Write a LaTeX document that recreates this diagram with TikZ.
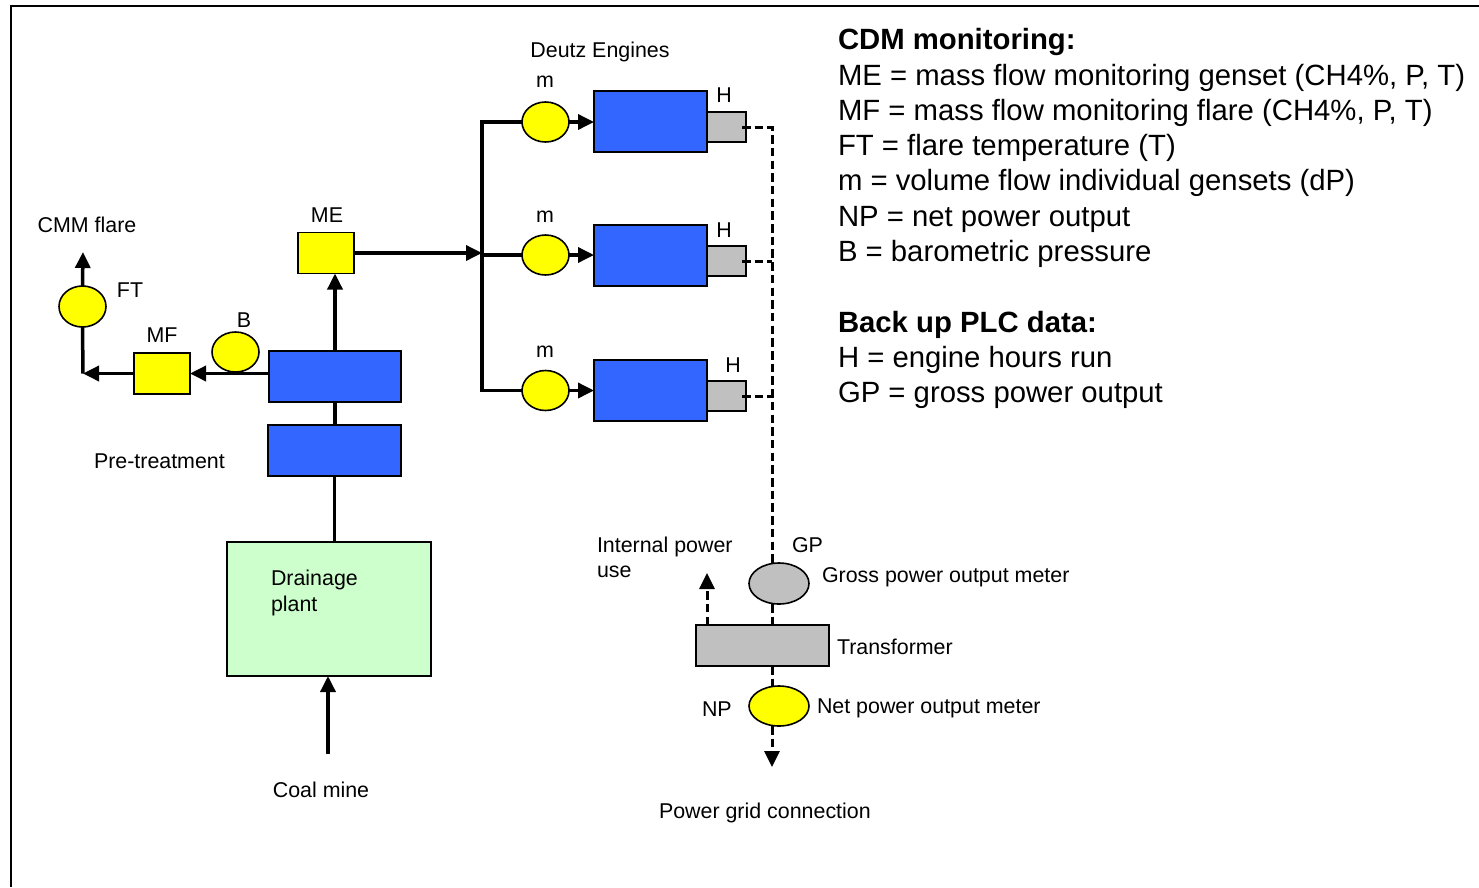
\documentclass[tikz,border=0pt]{standalone}
\usepackage{fontspec}
\setmainfont{Liberation Sans}
\usetikzlibrary{arrows.meta,shapes.geometric}
\definecolor{engblue}{HTML}{3366FF}
\definecolor{meteryellow}{HTML}{FFFF00}
\definecolor{boxgray}{HTML}{C0C0C0}
\definecolor{plantgreen}{HTML}{CCFFCC}
\begin{document}
\begin{tikzpicture}[x=1pt,y=-1pt,
  box/.style={draw,line width=1.6pt,inner sep=0,outer sep=0,rectangle},
  meter/.style={draw,line width=1.6pt,inner sep=0,outer sep=0,ellipse,fill=meteryellow},
  engine/.style={box,fill=engblue,minimum width=113pt,minimum height=61pt},
  hbox/.style={box,fill=boxgray,minimum width=39pt,minimum height=30pt},
  flow/.style={line width=3.5pt,line join=miter},
  arr/.style={-{Triangle[length=16pt,width=15pt]}},
  dashline/.style={line width=3pt,dash pattern=on 8.5pt off 4.2pt},
  lab/.style={font=\fontsize{21.4}{25}\selectfont,inner sep=0,outer sep=0},
  leg/.style={font=\fontsize{29.3}{35}\selectfont,inner sep=0,outer sep=0,anchor=base west},
  legb/.style={leg,font=\fontsize{29.3}{35}\selectfont\bfseries}]
\useasboundingbox (0,0) rectangle (1479,887);
\fill[white] (0,0) rectangle (1479,887);
% frame
\draw[line width=2.5pt] (11,887) -- (11,6) -- (1479,6);

% engines
\node[engine] (E1) at (650.5,121.5) {};
\node[engine] (E2) at (650.5,255.5) {};
\node[engine] (E3) at (650.5,390.5) {};
\node[hbox] (H1) at (726.5,127) {};
\node[hbox] (H2) at (726.5,261) {};
\node[hbox] (H3) at (726.5,396) {};
\node[meter,minimum width=47pt,minimum height=40pt] (m1) at (545.5,122) {};
\node[meter,minimum width=47pt,minimum height=40pt] (m2) at (545.5,255) {};
\node[meter,minimum width=47pt,minimum height=40pt] (m3) at (545.5,390.5) {};
\coordinate (bTop) at (482,122);
\coordinate (bBot) at (482,390.5);

% left part
\node[box,fill=meteryellow,minimum width=56pt,minimum height=41pt] (ME) at (326,253) {};
\node[box,fill=engblue,minimum width=132pt,minimum height=51pt] (P1) at (335,376.5) {};
\node[box,fill=engblue,minimum width=133pt,minimum height=51pt] (P2) at (334.5,450.5) {};
\node[box,fill=plantgreen,line width=2.5pt,minimum width=204pt,minimum height=134pt] (D) at (329,609) {};
\node[box,fill=meteryellow,minimum width=56pt,minimum height=41pt] (MF) at (162,373.5) {};
\node[meter,minimum width=47pt,minimum height=40pt] (B) at (235.5,352) {};
\node[meter,minimum width=47pt,minimum height=41pt] (FT) at (82.5,306.5) {};
\coordinate (cm) at (328,754);
\coordinate (corner) at (83,373.5);
\coordinate (flare) at (83,252);

% power side
\node[meter,fill=boxgray,minimum width=60pt,minimum height=41pt] (GP) at (779,583.5) {};
\node[box,fill=boxgray,minimum width=133pt,minimum height=41pt] (T) at (762.5,645.5) {};
\node[meter,minimum width=60pt,minimum height=40pt] (NP) at (779,706) {};
\coordinate (v1) at (772,127);
\coordinate (v2) at (772,261);
\coordinate (v3) at (772,396);
\coordinate (h1) at (742,127);
\coordinate (h2) at (742,261);
\coordinate (h3) at (742,396);
\coordinate (grid) at (772,767);
\coordinate (ip) at (707,573);

% flow connectors
\draw[flow] (m1.west) -- (bTop) -- (bBot) -- (m3.west);
\draw[flow] (m2.west) -- (m2.west -| bTop);
\draw[flow,arr] (ME.east) -- (ME.east -| bTop);
\draw[flow,arr] (m1.east) -- (m1.east -| E1.west);
\draw[flow,arr] (m2.east) -- (m2.east -| E2.west);
\draw[flow,arr] (m3.east) -- (m3.east -| E3.west);
\draw[flow,arr] (cm) -- (cm |- D.south);
\draw[flow] (P2.south) -- (P2.south |- D.north);
\draw[flow] (P1.south) -- (P1.south |- P2.north);
\draw[flow,arr] (P1.north) -- (P1.north |- ME.south);
\draw[flow,arr] (P1.west |- MF.east) -- (MF.east);
\draw[flow,arr] (MF.west) -- (corner);
\draw[flow] (corner) -- (FT.south);
\draw[flow,arr] (FT.north) -- (flare);

% dashed power lines
\draw[dashline] (h1) -- (v1) -- (v1 |- GP.north);
\draw[dashline] (h2) -- (v2);
\draw[dashline] (h3) -- (v3);
\draw[dashline] (v1 |- GP.south) -- (v1 |- T.north);
\draw[dashline] (v1 |- T.south) -- (v1 |- NP.north);
\draw[dashline,arr] (v1 |- NP.south) -- (grid);
\draw[dashline,arr] (ip |- T.north) -- (ip);

% labels
\node[lab,anchor=base] (tDeutz) at (600,57) {Deutz Engines};
\node[lab,anchor=base] (tm1) at (545,87) {m};
\node[lab,anchor=base] (tm2) at (545,222) {m};
\node[lab,anchor=base] (tm3) at (545,357) {m};
\node[lab,anchor=base] (tH1) at (724,102) {H};
\node[lab,anchor=base] (tH2) at (724,237) {H};
\node[lab,anchor=base] (tH3) at (733,372) {H};
\node[lab,anchor=base] (tME) at (327,222) {ME};
\node[lab,anchor=base] (tCMM) at (87,232) {CMM flare};
\node[lab,anchor=base] (tFT) at (130,297) {FT};
\node[lab,anchor=base] (tMF) at (162,342) {MF};
\node[lab,anchor=base] (tB) at (244,327) {B};
\node[lab,anchor=base west] (tPre) at (94,468) {Pre-treatment};
\node[lab,anchor=base west] (tDr1) at (271,585) {Drainage};
\node[lab,anchor=base west] (tDr2) at (271,611) {plant};
\node[lab,anchor=base] (tCoal) at (321,797) {Coal mine};
\node[lab,anchor=base west] (tIP1) at (597,552) {Internal power};
\node[lab,anchor=base west] (tIP2) at (597,577) {use};
\node[lab,anchor=base west] (tGP) at (792,552) {GP};
\node[lab,anchor=base west] (tGPm) at (822,582) {Gross power output meter};
\node[lab,anchor=base west] (tT) at (837,654) {Transformer};
\node[lab,anchor=base west] (tNP) at (702,716) {NP};
\node[lab,anchor=base west] (tNPm) at (817,713) {Net power output meter};
\node[lab,anchor=base west] (tGrid) at (659,818) {Power grid connection};

% legend
\node[legb] (l0) at (838,49.5) {CDM monitoring:};
\node[leg] (l1) at (838,85) {ME = mass flow monitoring genset (CH4\%, P, T)};
\node[leg] (l2) at (838,120.3) {MF = mass flow monitoring flare (CH4\%, P, T)};
\node[leg] (l3) at (838,155.6) {FT = flare temperature (T)};
\node[leg] (l4) at (838,190.9) {m = volume flow individual gensets (dP)};
\node[leg] (l5) at (838,226.2) {NP = net power output};
\node[leg] (l6) at (838,261.5) {B = barometric pressure};
\node[legb] (l7) at (838,332) {Back up PLC data:};
\node[leg] (l8) at (838,367.4) {H = engine hours run};
\node[leg] (l9) at (838,402.7) {GP = gross power output};
\end{tikzpicture}
\end{document}
